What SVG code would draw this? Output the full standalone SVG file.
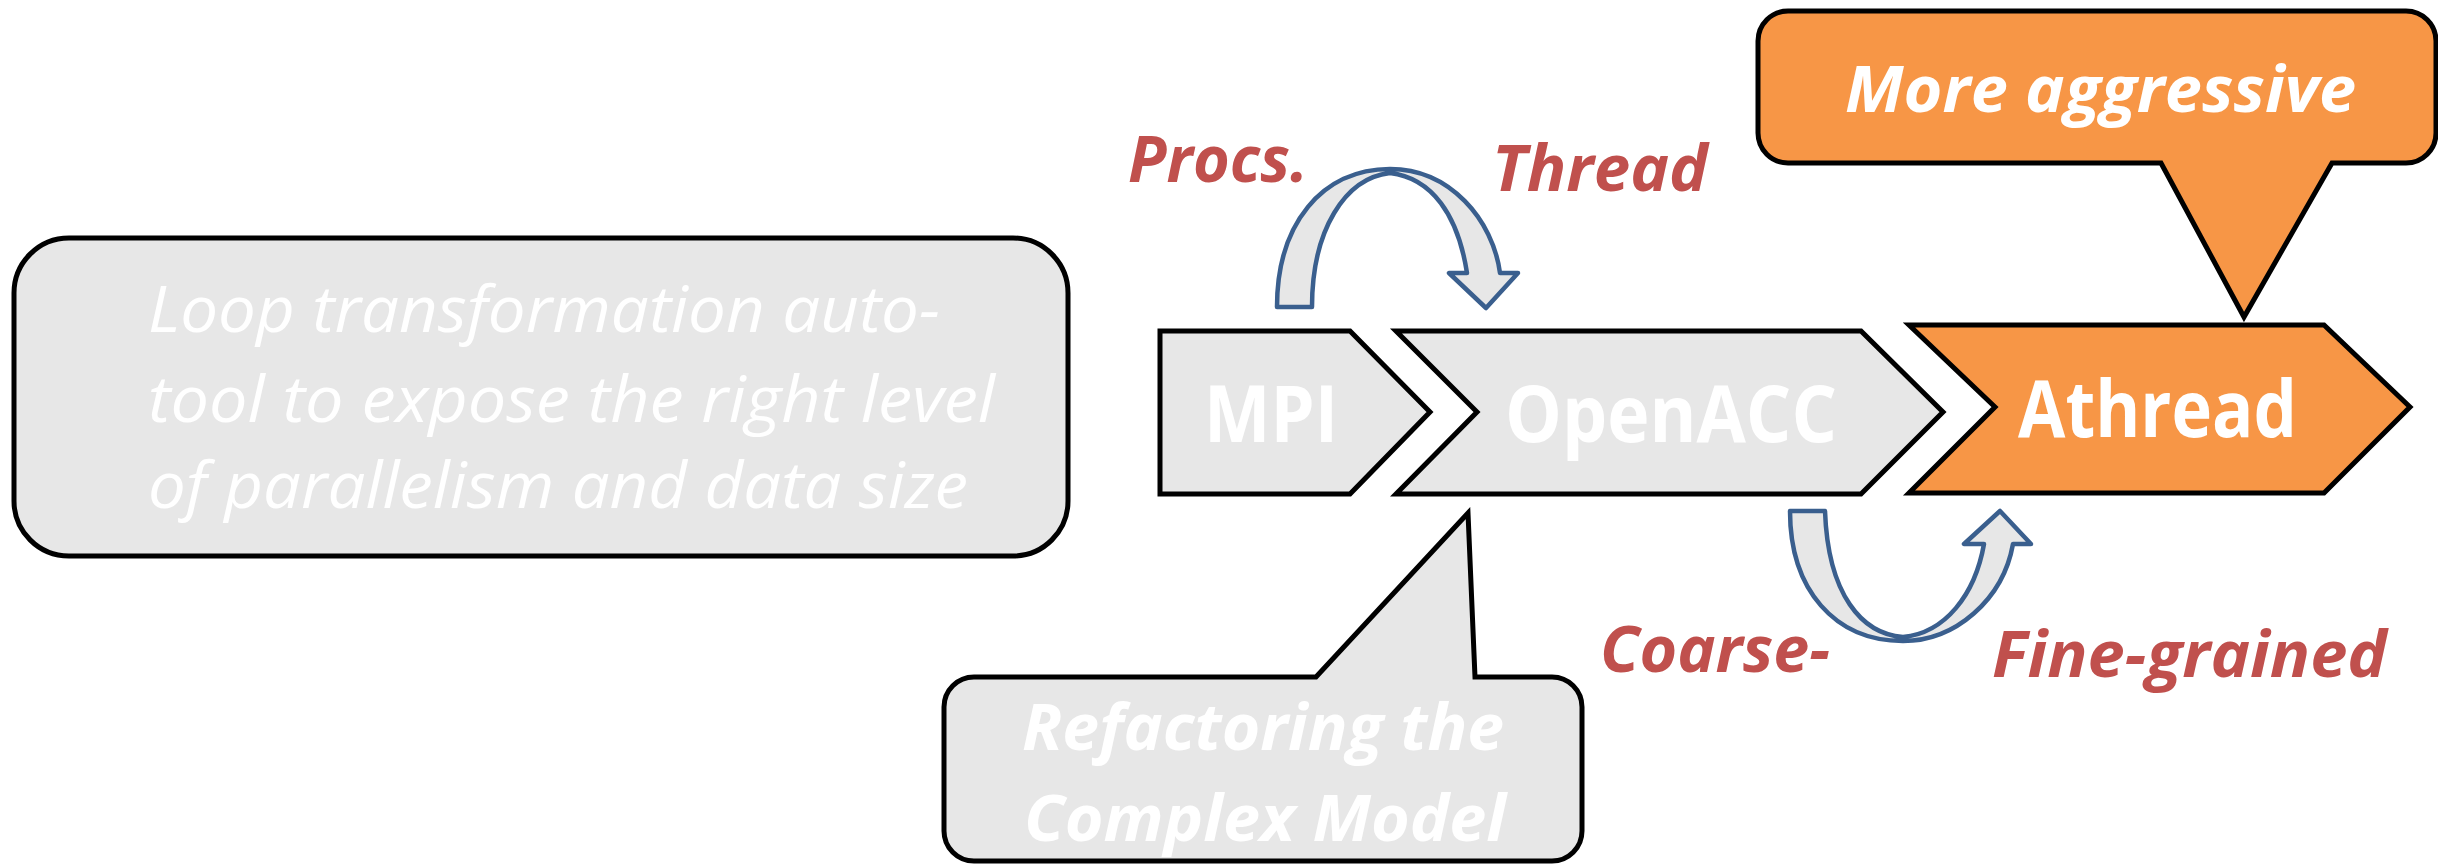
<svg xmlns="http://www.w3.org/2000/svg" width="2438" height="864" viewBox="0 0 2438 864">
  <style>
    .box { fill: #E7E7E7; stroke: #000; stroke-width: 5; stroke-linejoin: miter; }
    .hot { fill: #F79646; stroke: #000; stroke-width: 5; stroke-linejoin: miter; }
    .note { font-family: "Open Sans", "Liberation Sans", sans-serif; font-style: italic; font-size: 64px; fill: #FFFFFF; }
    .stage { font-family: "Open Sans", "Liberation Sans", sans-serif; font-weight: bold; font-size: 78px; fill: #FFFFFF; }
    .call { font-family: "Open Sans", "Liberation Sans", sans-serif; font-weight: bold; font-style: italic; font-size: 64px; fill: #FFFFFF; }
    .tag { font-family: "Open Sans", "Liberation Sans", sans-serif; font-weight: bold; font-style: italic; font-size: 64px; fill: #C0504D; }
    .bend { fill: #E7E7E7; stroke: #3A5F8E; stroke-width: 4.5; stroke-linejoin: round; }
  </style>

  <!-- description panel on the left -->
  <g id="loop-tool">
    <rect class="box" x="14" y="238" width="1054" height="318" rx="55" ry="55" stroke-width="4.5"/>
    <text class="note" x="148" y="332" textLength="792" lengthAdjust="spacingAndGlyphs">Loop transformation auto-</text>
    <text class="note" x="148" y="422" textLength="847" lengthAdjust="spacingAndGlyphs">tool to expose the right level</text>
    <text class="note" x="148" y="508" textLength="820" lengthAdjust="spacingAndGlyphs">of parallelism and data size</text>
  </g>

  <!-- pipeline stages -->
  <g id="mpi">
    <polygon class="box" points="1160,331 1350,331 1430,412 1350,494 1160,494"/>
    <text class="stage" x="1204" y="442" textLength="134" lengthAdjust="spacingAndGlyphs">MPI</text>
  </g>
  <g id="openacc">
    <polygon class="box" points="1396,331 1861,331 1943,412 1861,494 1396,494 1477,412"/>
    <text class="stage" x="1505" y="442" textLength="332" lengthAdjust="spacingAndGlyphs">OpenACC</text>
  </g>
  <g id="athread">
    <polygon class="hot" points="1909,325 2324,325 2410,407 2324,493 1909,493 1995,407"/>
    <text class="stage" x="2018" y="437" textLength="279" lengthAdjust="spacingAndGlyphs">Athread</text>
  </g>

  <!-- callouts -->
  <g id="more-aggressive">
    <path class="hot" d="M1788,11 H2406 A30,30 0 0 1 2436,41 V133 A30,30 0 0 1 2406,163 H2332 L2244,317 L2161,163 H1788 A30,30 0 0 1 1758,133 V41 A30,30 0 0 1 1788,11 Z"/>
    <text class="call" x="1845" y="112" textLength="511" lengthAdjust="spacingAndGlyphs">More aggressive</text>
  </g>
  <g id="refactoring">
    <path class="box" d="M974,677 H1316 L1468,513 L1475,677 H1552 A30,30 0 0 1 1582,707 V831 A30,30 0 0 1 1552,861 H974 A30,30 0 0 1 944,831 V707 A30,30 0 0 1 974,677 Z"/>
    <text class="call" x="1022" y="750" textLength="482" lengthAdjust="spacingAndGlyphs">Refactoring the</text>
    <text class="call" x="1024" y="841" textLength="482" lengthAdjust="spacingAndGlyphs">Complex Model</text>
  </g>

  <!-- curved transition arrows with their labels -->
  <g id="connectors">
    <path class="bend" d="M1277,307 C1277,224 1322,169 1390,169 C1450,169 1493,220 1500,273 L1518,273 L1486,308 L1449,273 L1467,273 C1458,215 1432,178 1390,173 C1345,178 1312,230 1312,307 Z"/>
    <path class="bend" d="M1790,511 C1790,590 1835,641 1903,641 C1955,641 2003,600 2013,544 L2031,544 L2000,511 L1964,544 L1984,544 C1975,595 1945,633 1903,637 C1862,634 1828,595 1825,511 Z"/>
    <text class="tag" x="1128" y="182" textLength="180" lengthAdjust="spacingAndGlyphs">Procs.</text>
    <text class="tag" x="1492" y="191" textLength="216" lengthAdjust="spacingAndGlyphs">Thread</text>
    <text class="tag" x="1600" y="672" textLength="230" lengthAdjust="spacingAndGlyphs">Coarse-</text>
    <text class="tag" x="1992" y="677" textLength="395" lengthAdjust="spacingAndGlyphs">Fine-grained</text>
  </g>
</svg>
